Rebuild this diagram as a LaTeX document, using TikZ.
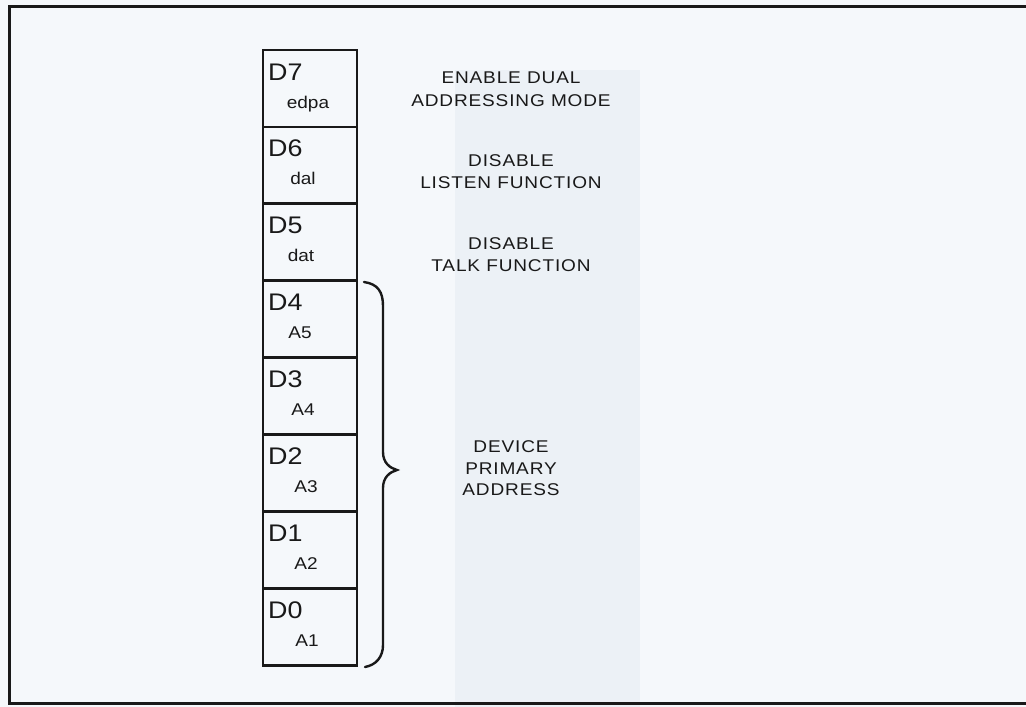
\documentclass[tikz,border=0pt]{standalone}
\usepackage{fontspec}
\setmainfont{Liberation Sans}[FakeStretch=1.12]
\newfontfamily\lblfont{Liberation Sans}[FakeStretch=1.12,LetterSpace=5]
\usetikzlibrary{calc}
\definecolor{bgc}{RGB}{245,248,251}
\definecolor{bandc}{RGB}{236,241,246}
\definecolor{ink}{RGB}{25,25,25}
\begin{document}
\begin{tikzpicture}[x=1pt,y=-1pt,
  frame/.style={draw=ink,line width=3pt},
  cell/.style={draw=ink,line width=2.8pt,minimum width=94pt,minimum height=76.9pt,inner sep=0pt,outer sep=0pt,anchor=north west},
  dlab/.style={font=\fontsize{24}{24}\selectfont,text=ink,inner sep=0pt,anchor=base west},
  slab/.style={font=\fontsize{17}{17}\selectfont,text=ink,inner sep=0pt,anchor=base},
  rlab/.style={font=\lblfont\fontsize{17}{17}\selectfont,text=ink,inner sep=0pt,anchor=base},
  brace/.style={draw=ink,line width=2.4pt,line cap=round}]
\useasboundingbox (0,0) rectangle (1026,707);
\fill[bgc] (0,0) rectangle (1026,707);
\fill[bandc] (455,70) rectangle (640,707);
\draw[frame] (1035,6) -- (9,6) -- (9,703) -- (1035,703);
% register cells
\foreach \i/\d/\s/\sx in {0/D7/edpa/308,1/D6/dal/303,2/D5/dat/301,3/D4/A5/300,4/D3/A4/303,5/D2/A3/306,6/D1/A2/306,7/D0/A1/307}{
  \node[cell] (r\i) at (263,50+\i*76.9) {};
  \node[dlab] (d\i) at ($(r\i.north west)+(5,30)$) {\d};
  \node[slab] (s\i) at ($(r\i.north west)+(\sx-263,58)$) {\s};
}
% right labels
\node[rlab] (en1) at (511,83) {ENABLE DUAL};
\node[rlab] (en2) at (511,106) {ADDRESSING MODE};
\node[rlab] (li1) at (511,166) {DISABLE};
\node[rlab] (li2) at (511,188) {LISTEN FUNCTION};
\node[rlab] (ta1) at (511,249) {DISABLE};
\node[rlab] (ta2) at (511,271) {TALK FUNCTION};
\node[rlab] (dv1) at (511,452) {DEVICE};
\node[rlab] (dv2) at (511,474) {PRIMARY};
\node[rlab] (dv3) at (511,495) {ADDRESS};
% brace
\coordinate (bt) at (364,282);
\coordinate (bb) at (365,667);
\coordinate (tip) at (397,470);
\draw[brace] (bt) .. controls (378,284) and (383,292) .. (383,306)
  -- (383,452) .. controls (383,463) and (390,468) .. (tip)
  .. controls (390,472) and (383,477) .. (383,488)
  -- (383,645) .. controls (383,657) and (376,665) .. (bb);
\end{tikzpicture}
\end{document}
